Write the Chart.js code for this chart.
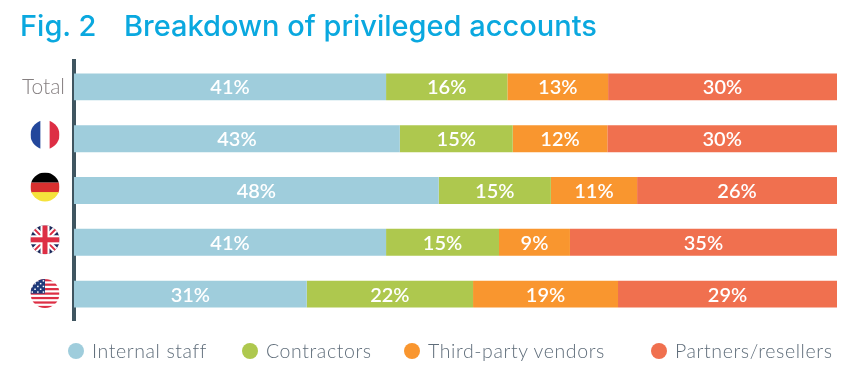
<!DOCTYPE html>
<html>
<head>
<meta charset="utf-8">
<style>
  html, body { margin: 0; background: #fff; }
  body { position: relative; width: 860px; height: 386px; overflow: hidden; }
  canvas { display: block; }
  .title { position: absolute; top: 10px; margin: 0; color: #0aa8df; font: 500 29px/32px Inter, sans-serif; white-space: nowrap; }
  #fig { left: 20px; }
  #heading { left: 124px; }
  .key { position: absolute; top: 339px; color: #5f6d7a; font: 300 19.5px/24px Lato, sans-serif; letter-spacing: 0.6px; white-space: nowrap; }
  .key i { position: absolute; left: -24px; top: 4px; width: 16px; height: 16px; border-radius: 50%; }
</style>
<script src="https://cdn.jsdelivr.net/npm/chart.js@4"></script>
</head>
<body>
<canvas id="chart" width="860" height="386"></canvas>
<div class="title" id="fig">Fig. 2</div>
<div class="title" id="heading">Breakdown of privileged accounts</div>
<div id="legend"></div>
<script>
const categories = ['Total', 'France', 'Germany', 'UK', 'USA'];
const seriesNames = ['Internal staff', 'Contractors', 'Third-party vendors', 'Partners/resellers'];
const internalStaff = [40.9, 42.7, 47.8, 40.9, 30.5];
const contractors = [15.9, 14.8, 14.7, 14.8, 21.8];
const vendors = [13.2, 12.4, 11.3, 9.3, 19];
const partners = [30, 30.1, 26.2, 35, 28.7];
const colors = ['#9fcddc', '#aec84e', '#f9962f', '#f0704f'];

// Flags stand in for the country tick labels
const flags = {
  France(c, x, y, r) {
    c.fillStyle = '#ffffff'; c.fillRect(x - r, y - r, r * 2, r * 2);
    c.fillStyle = '#23479b'; c.fillRect(x - r, y - r, r * 0.68, r * 2);
    c.fillStyle = '#dd2e44'; c.fillRect(x + r * 0.32, y - r, r * 0.68, r * 2);
  },
  Germany(c, x, y, r) {
    c.fillStyle = '#000000'; c.fillRect(x - r, y - r, r * 2, r * 0.7);
    c.fillStyle = '#d8302f'; c.fillRect(x - r, y - r * 0.3, r * 2, r * 0.7);
    c.fillStyle = '#f5e23c'; c.fillRect(x - r, y + r * 0.35, r * 2, r * 0.7);
  },
  UK(c, x, y, r) {
    c.fillStyle = '#1d2a5c'; c.fillRect(x - r, y - r, r * 2, r * 2);
    const diag = (color, w) => {
      c.strokeStyle = color; c.lineWidth = w;
      c.beginPath();
      c.moveTo(x - r, y - r); c.lineTo(x + r, y + r);
      c.moveTo(x + r, y - r); c.lineTo(x - r, y + r);
      c.stroke();
    };
    diag('#ffffff', 6);
    diag('#dd2e44', 2);
    c.fillStyle = '#ffffff';
    c.fillRect(x - r, y - 4.5, r * 2, 9); c.fillRect(x - 4.5, y - r, 9, r * 2);
    c.fillStyle = '#dd2e44';
    c.fillRect(x - r, y - 2.5, r * 2, 5); c.fillRect(x - 2.5, y - r, 5, r * 2);
  },
  USA(c, x, y, r) {
    c.fillStyle = '#ffffff'; c.fillRect(x - r, y - r, r * 2, r * 2);
    c.fillStyle = '#dd2e44';
    for (let i = 0; i < 7; i++) c.fillRect(x - r, y - r + i * (r * 2 / 6.5), r * 2, r / 6.5);
    c.fillStyle = '#1f3a7a'; c.fillRect(x - r, y - r, r, r);
    c.fillStyle = '#ffffff';
    for (let i = 0; i < 5; i++) {
      for (let j = 0; j < 5; j++) {
        if ((i + j) % 2 === 0) c.fillRect(x - r + 1 + i * 2.8, y - r + 1 + j * 2.8, 1.5, 1.5);
      }
    }
  }
};
// the flags sit a little above their bars in the original
const flagNudge = { France: -4, Germany: -3.5, UK: -2.5, USA: -0.5 };

const flagPlugin = {
  id: 'flagIcons',
  afterDraw(chart) {
    const c = chart.ctx;
    const yScale = chart.scales.y;
    categories.forEach((name, i) => {
      if (!flags[name]) return;
      const y = yScale.getPixelForValue(i) + flagNudge[name];
      c.save();
      c.beginPath();
      c.arc(45, y, 14.5, 0, Math.PI * 2);
      c.clip();
      flags[name](c, 45, y, 14.5);
      c.restore();
    });
  }
};

// Percent labels in the middle of each segment
const valueLabels = {
  id: 'valueLabels',
  afterDatasetsDraw(chart) {
    const c = chart.ctx;
    c.save();
    c.fillStyle = '#ffffff';
    c.font = '600 20px Lato, sans-serif';
    c.textAlign = 'center';
    c.textBaseline = 'middle';
    chart.data.datasets.forEach((ds, d) => {
      chart.getDatasetMeta(d).data.forEach((bar, i) => {
        c.fillText(Math.round(ds.data[i]) + '%', (bar.x + bar.base) / 2, bar.y + 1);
      });
    });
    c.restore();
  }
};

function row(label, data, color) {
  return { label, data, backgroundColor: color, borderWidth: 0, barPercentage: 0.52, categoryPercentage: 1 };
}

new Chart(document.getElementById('chart'), {
  type: 'bar',
  data: {
    labels: categories,
    datasets: [
      row(seriesNames[0], internalStaff, colors[0]),
      row(seriesNames[1], contractors, colors[1]),
      row(seriesNames[2], vendors, colors[2]),
      row(seriesNames[3], partners, colors[3])
    ]
  },
  options: {
    indexAxis: 'y',
    responsive: false,
    animation: false,
    layout: { padding: { left: 18, right: 23, top: 61, bottom: 66 } },
    plugins: {
      tooltip: { enabled: false },
      legend: { display: false }
    },
    scales: {
      x: { stacked: true, display: false, min: 0, max: 100 },
      y: {
        stacked: true,
        afterFit(scale) { scale.width = 56; },
        grid: { display: false, drawTicks: false },
        border: { display: true, color: '#3f5560', width: 4 },
        ticks: {
          padding: 9,
          color: '#857f80',
          font: { family: 'Lato', size: 21, weight: '300' },
          callback(v) { return v === 0 ? categories[0] : ''; }
        }
      }
    }
  },
  plugins: [flagPlugin, valueLabels]
});

// Legend spacing in the original is uneven, so it is laid out by hand
const legendLeft = [92, 266, 428, 675];
seriesNames.forEach((name, i) => {
  const key = document.createElement('div');
  key.className = 'key';
  key.style.left = legendLeft[i] + 'px';
  key.textContent = name;
  const dot = document.createElement('i');
  dot.style.background = colors[i];
  key.appendChild(dot);
  document.getElementById('legend').appendChild(key);
});
</script>
</body>
</html>
